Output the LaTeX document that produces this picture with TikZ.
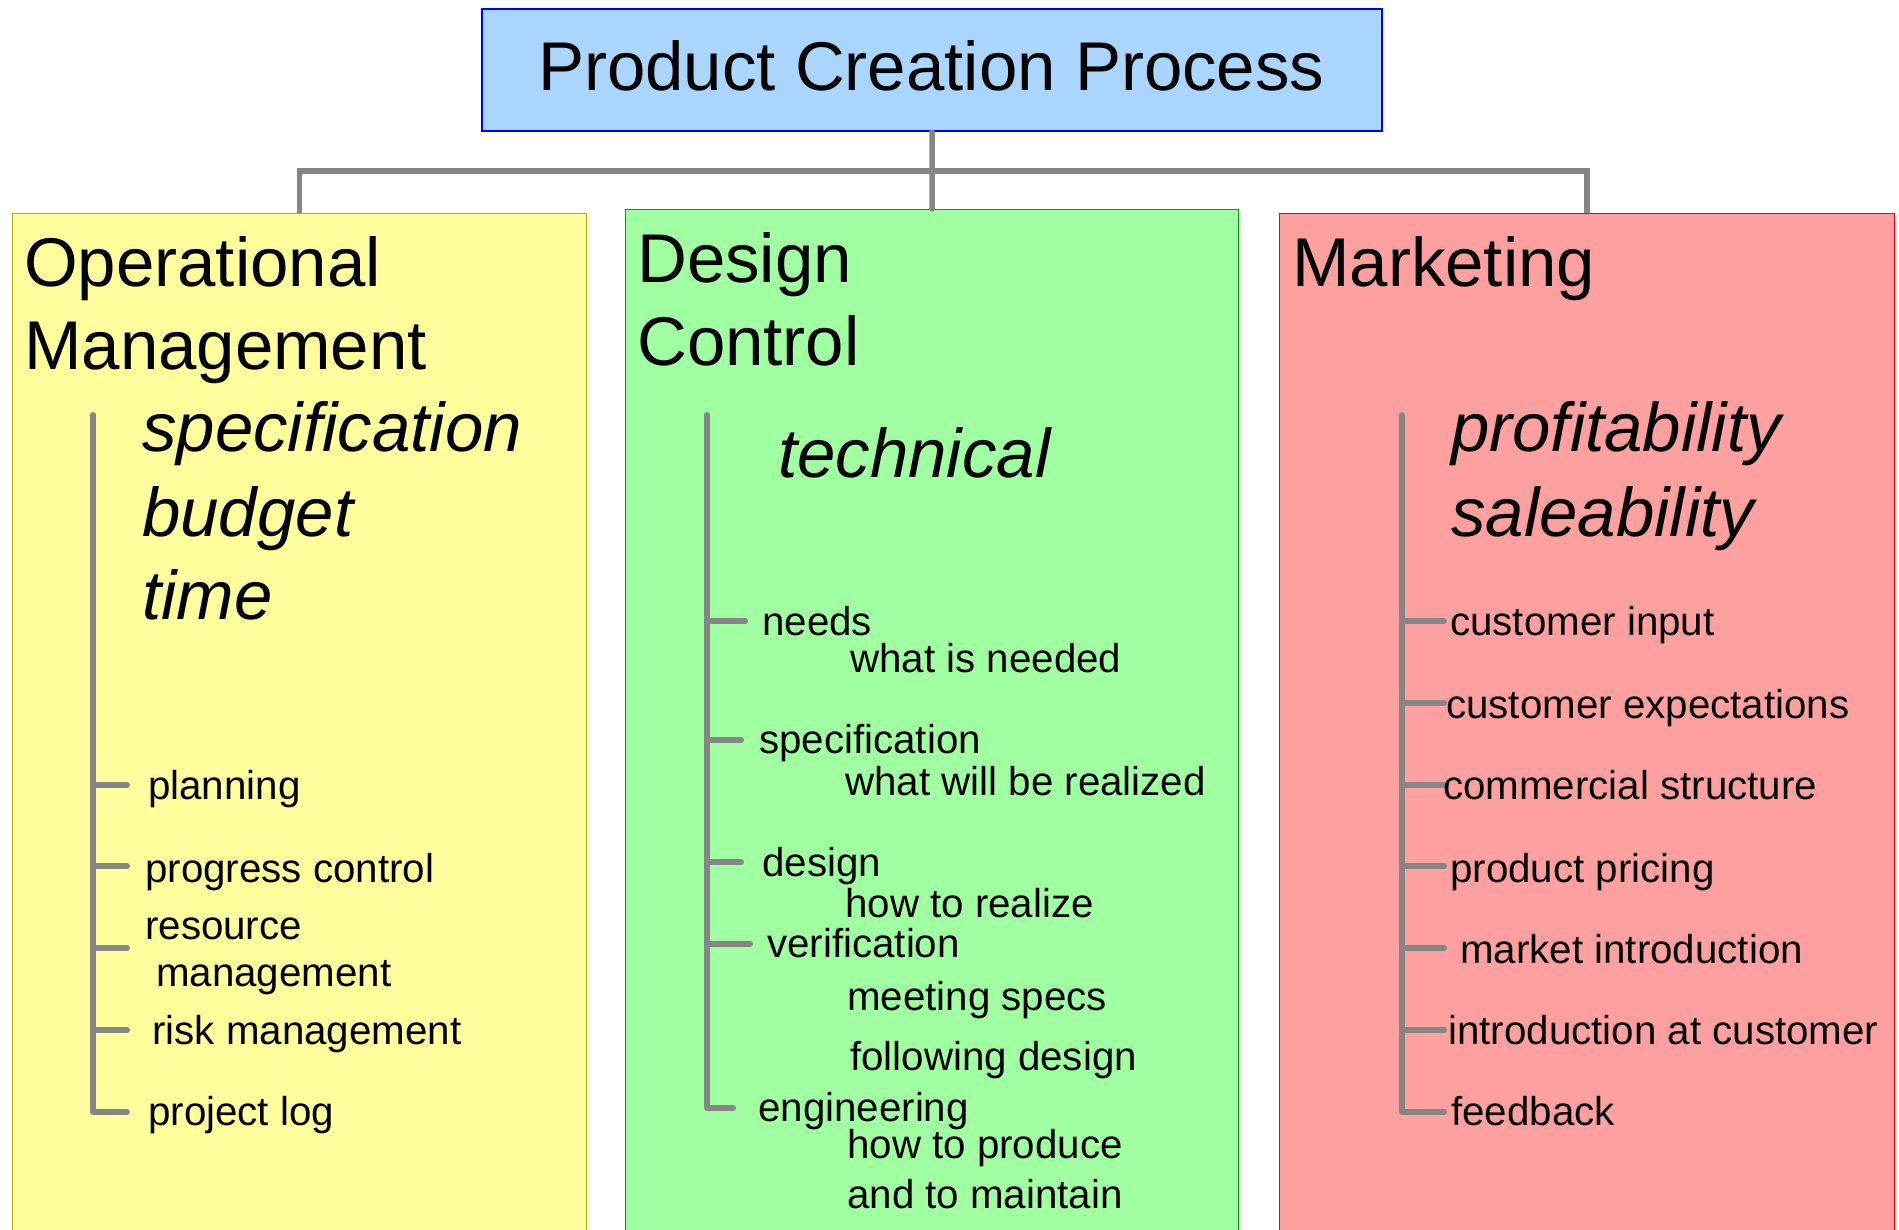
\documentclass[tikz,border=0pt]{standalone}
\usepackage{fontspec}
\setmainfont{Liberation Sans}
\begin{document}
\begin{tikzpicture}[x=1pt,y=-1pt,
  big/.style={anchor=base west,inner sep=0pt,font=\fontsize{69}{83}\selectfont},
  bigit/.style={big,font=\fontsize{69}{83}\selectfont\itshape},
  small/.style={anchor=base west,inner sep=0pt,font=\fontsize{40.3}{48}\selectfont,yshift=-3pt},
  panel/.style={draw,line width=1.2pt,anchor=north west,inner sep=0pt},
  conn/.style={draw=gray!95,line width=5.5pt,line cap=round},
  bar/.style={draw=gray!95,line width=6pt,line cap=round,line join=round}]
\useasboundingbox (0,0) rectangle (1899,1230);
% boxes
\node[panel,draw=blue,line width=2pt,fill={rgb,255:red,170;green,213;blue,255},minimum width=900pt,minimum height=122pt] (pcp) at (481,8) {};
\node[panel,draw={rgb,255:red,176;green,176;blue,0},fill={rgb,255:red,255;green,253;blue,156},minimum width=574pt,minimum height=1030pt] (om) at (12,213) {};
\node[panel,draw={rgb,255:red,0;green,160;blue,0},fill={rgb,255:red,160;green,255;blue,160},minimum width=613pt,minimum height=1030pt] (dc) at (625,209) {};
\node[panel,draw=red,fill={rgb,255:red,255;green,160;blue,160},minimum width=615pt,minimum height=1030pt] (mk) at (1279,213) {};
% connectors
\coordinate (bus) at (931,171);
\draw[conn] (pcp.south) -- (dc.north);
\draw[conn,line cap=butt] (om.north) |- (bus) -| (mk.north);
% title
\node[big] (t) at (538,91) {Product Creation Process};
% headers
\node[big] (h1a) at (24,287) {Operational};
\node[big] (h1b) at (24,370) {Management};
\node[big] (h2a) at (637,283) {Design};
\node[big] (h2b) at (637,366) {Control};
\node[big] (h3) at (1292,287) {Marketing};
% italic items
\node[bigit] (i1) at (142,452) {specification};
\node[bigit] (i2) at (142,536) {budget};
\node[bigit] (i3) at (142,619) {time};
\node[bigit] (i4) at (778,478) {technical};
\node[bigit] (i5) at (1451,452) {profitability};
\node[bigit] (i6) at (1451,536) {saleability};
% yellow list
\draw[bar] (93,415) -- (93,1112) -- (127,1112);
\foreach \y in {785,866,948,1030} \draw[bar] (93,\y) -- (127,\y);
\node[small] (a1) at (148,796) {planning};
\node[small] (a2) at (145,879) {progress control};
\node[small] (a3) at (145,936) {resource};
\node[small] (a4) at (156,983) {management};
\node[small] (a5) at (152,1041) {risk management};
\node[small] (a6) at (148,1122) {project log};
% green list
\draw[bar] (707,415) -- (707,1108) -- (733,1108);
\draw[bar] (707,621) -- (745,621);
\draw[bar] (707,740) -- (741,740);
\draw[bar] (707,862) -- (741,862);
\draw[bar] (707,944) -- (750,944);
\node[small] (b1) at (762,632) {needs};
\node[small] (b2) at (850,669) {what is needed};
\node[small] (b3) at (759,750) {specification};
\node[small] (b4) at (845,792) {what will be realized};
\node[small] (b5) at (762,873) {design};
\node[small] (b6) at (845,914) {how to realize};
\node[small] (b7) at (767,954) {verification};
\node[small] (b8) at (847,1007) {meeting specs};
\node[small] (b9) at (850,1067) {following design};
\node[small] (b10) at (758,1118) {engineering};
\node[small] (b11) at (847,1155) {how to produce};
\node[small] (b12) at (847,1205) {and to maintain};
% red list
\draw[bar] (1402,415) -- (1402,1112) -- (1444,1112);
\foreach \y in {621,703,785,866,948,1030} \draw[bar] (1402,\y) -- (1444,\y);
\node[small] (c1) at (1450,632) {customer input};
\node[small] (c2) at (1446,715) {customer expectations};
\node[small] (c3) at (1443,796) {commercial structure};
\node[small] (c4) at (1450,879) {product pricing};
\node[small] (c5) at (1460,960) {market introduction};
\node[small] (c6) at (1448,1041) {introduction at customer};
\node[small] (c7) at (1451,1122) {feedback};
\end{tikzpicture}
\end{document}
